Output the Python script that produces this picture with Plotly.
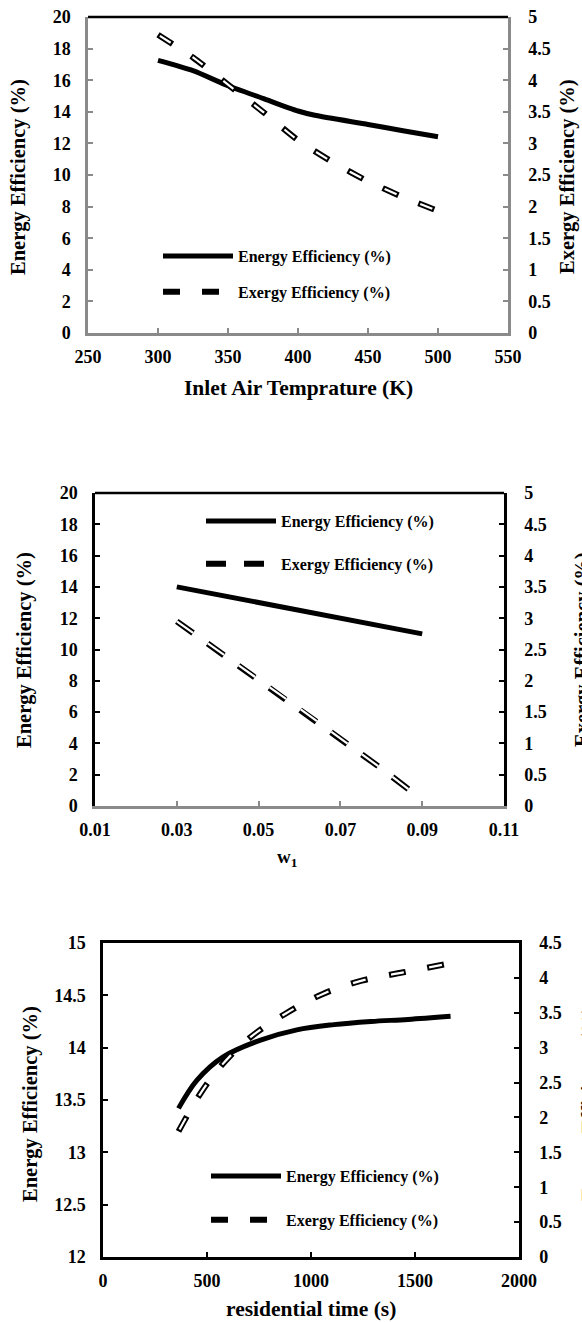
import plotly.graph_objects as go

W, H = 582, 1322
FONT = "Liberation Serif, Times New Roman, serif"
GRAY = "#8a8a8a"

# ---------------- data ----------------
# Chart 1: inlet air temperature
temp_energy_x = [300, 325, 350, 375, 400, 412, 450, 475, 500]
temp_energy_y = [17.25, 16.6, 15.65, 14.85, 14.05, 13.78, 13.2, 12.8, 12.42]
temp_exergy_x = [300, 325, 350, 375, 400, 425, 450, 475, 500]
temp_exergy_y = [4.72, 4.36, 3.93, 3.5, 3.05, 2.7, 2.4, 2.15, 1.93]

# Chart 2: w1
w1_x = [0.03, 0.04, 0.05, 0.06, 0.07, 0.08, 0.09]
w1_energy_y = [14.0, 13.5, 13.0, 12.5, 12.0, 11.5, 11.0]
w1_exergy_y = [2.95, 2.48, 2.02, 1.56, 1.08, 0.6, 0.1]

# Chart 3: residential time
time_energy_x = [363, 452, 576, 754, 932, 1110, 1288, 1466, 1671]
time_energy_y = [13.42, 13.69, 13.91, 14.07, 14.17, 14.22, 14.25, 14.27, 14.30]
time_exergy_x = [363, 470, 568, 705, 879, 1057, 1244, 1444, 1671]
time_exergy_y = [1.80, 2.35, 2.74, 3.14, 3.49, 3.77, 3.96, 4.08, 4.21]

ENERGY_NAME = "Energy Efficiency (%)"
EXERGY_NAME = "Exergy Efficiency (%)"


def px_x(p):
    return p / W


def px_y(p):
    return 1 - p / H


fig = go.Figure()


def add_chart(xe, ye, xx, yx, xa, yl, yr, leg, outer_dash, inner_dash, shape, smooth):
    fig.add_trace(go.Scatter(
        x=xe, y=ye, xaxis=xa, yaxis=yl, mode="lines", name=ENERGY_NAME,
        line=dict(color="black", width=5, shape=shape, smoothing=smooth),
        legend=leg, legendgroup=leg + "e"))
    fig.add_trace(go.Scatter(
        x=xx, y=yx, xaxis=xa, yaxis=yr, mode="lines", name=EXERGY_NAME,
        line=dict(color="black", width=6, dash=outer_dash, shape=shape, smoothing=smooth),
        legend=leg, legendgroup=leg + "x"))
    fig.add_trace(go.Scatter(
        x=xx, y=yx, xaxis=xa, yaxis=yr, mode="lines", showlegend=False,
        hoverinfo="skip",
        line=dict(color="white", width=2.2, dash=inner_dash, shape=shape, smoothing=smooth)))


add_chart(temp_energy_x, temp_energy_y, temp_exergy_x, temp_exergy_y,
          "x", "y", "y2", "legend", "17px,22px", "0px,2px,13px,24px", "spline", 0.6)
add_chart(w1_x, w1_energy_y, w1_x, w1_exergy_y,
          "x2", "y3", "y4", "legend2", "20px,18px", "20px,18px", "linear", 1)
add_chart(time_energy_x, time_energy_y, time_exergy_x, time_exergy_y,
          "x3", "y5", "y6", "legend3", "17px,22px", "0px,2px,13px,24px", "spline", 1)

tickfont = dict(family=FONT, size=18, color="black", weight="bold")


def xax(domain, rng, dtick, tick0, anchor, color, width, mirror=False):
    return dict(domain=domain, range=rng, dtick=dtick, tick0=tick0, anchor=anchor,
                showgrid=False, zeroline=False, showline=True, linecolor=color,
                linewidth=width, ticks="inside", ticklen=5, tickcolor=color,
                tickwidth=1.5, tickfont=tickfont, mirror=mirror, fixedrange=True,
                ticklabelstandoff=6)


def yax(domain, rng, dtick, anchor, color, width, side="left", overlaying=None):
    d = dict(range=rng, dtick=dtick, anchor=anchor, side=side,
             showgrid=False, zeroline=False, showline=True, linecolor=color,
             linewidth=width, ticks="inside", ticklen=5, tickcolor=color,
             tickwidth=1.5, tickfont=tickfont, fixedrange=True,
             ticklabelstandoff=11 if side == "left" else 14)
    if overlaying:
        d["overlaying"] = overlaying
    else:
        d["domain"] = domain
    return d


d1x = [px_x(88), px_x(508)]
d1y = [px_y(333), px_y(17)]
d2x = [px_x(95), px_x(504)]
d2y = [px_y(806), px_y(493)]
d3x = [px_x(103), px_x(519)]
d3y = [px_y(1257), px_y(943)]

legfont = dict(family=FONT, size=16, color="black", weight="bold")


def leg(xpx, ypx, gap):
    return dict(x=px_x(xpx), y=px_y(ypx), xanchor="left", yanchor="top",
                bgcolor="rgba(0,0,0,0)", font=legfont, tracegroupgap=gap,
                traceorder="grouped", itemwidth=70)


def ann(text, xpx, ypx, angle=0, size=21):
    return dict(text=text, x=px_x(xpx), y=px_y(ypx), xref="paper", yref="paper",
                showarrow=False, textangle=angle, xanchor="center", yanchor="middle",
                font=dict(family=FONT, size=size, color="black", weight="bold"))


fig.update_layout(
    width=W, height=H, margin=dict(l=0, r=0, t=0, b=0, autoexpand=False),
    paper_bgcolor="white", plot_bgcolor="white",
    font=dict(family=FONT, color="black", weight="bold"),
    xaxis=xax(d1x, [250, 550], 50, 250, "y", GRAY, 2.5),
    yaxis=yax(d1y, [0, 20], 2, "x", GRAY, 2.5),
    yaxis2=yax(None, [0, 5], 0.5, "x", GRAY, 2.5, side="right", overlaying="y"),
    xaxis2=xax(d2x, [0.01, 0.11], 0.02, 0.01, "y3", GRAY, 2.5),
    yaxis3=yax(d2y, [0, 20], 2, "x2", "black", 2.5),
    yaxis4=yax(None, [0, 5], 0.5, "x2", "black", 2.5, side="right", overlaying="y3"),
    xaxis3=xax(d3x, [0, 2000], 500, 0, "y5", "black", 2.5, mirror=True),
    yaxis5=yax(d3y, [12, 15], 0.5, "x3", "black", 2.5),
    yaxis6=yax(None, [0, 4.5], 0.5, "x3", "black", 2.5, side="right", overlaying="y5"),
    legend=leg(158, 239, 12),
    legend2=leg(201, 504, 19),
    legend3=leg(206, 1159, 20),
    showlegend=True,
    shapes=[
        dict(type="line", xref="x domain", yref="y domain", x0=0, x1=1, y0=1, y1=1,
             line=dict(color="black", width=2.5)),
        dict(type="line", xref="x2 domain", yref="y3 domain", x0=0, x1=1, y0=1, y1=1,
             line=dict(color="black", width=2.5)),
    ],
    annotations=[
        ann("Inlet Air Temprature (K)", 298, 388, 0, 21.5),
        ann(ENERGY_NAME, 19, 177, -90, 20.5),
        ann(EXERGY_NAME, 568, 177, -90, 20.5),
        ann("w<sub>1</sub>", 287, 858, 0, 19),
        ann(ENERGY_NAME, 25, 650, -90, 20.5),
        ann(EXERGY_NAME, 583, 650, -90, 20.5),
        ann("residential time (s)", 311, 1309, 0, 21.5),
        ann(ENERGY_NAME, 30, 1104, -90, 20.5),
        ann(EXERGY_NAME, 589, 1104, -90, 20.5),
    ],
)

fig.write_html("out.html")
